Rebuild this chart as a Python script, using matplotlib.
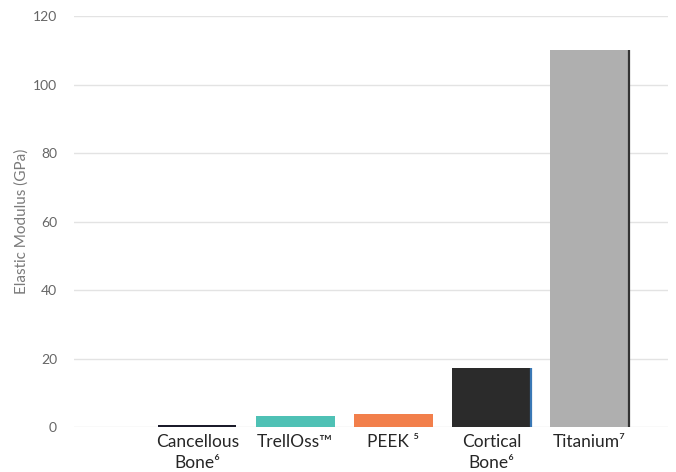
import numpy as np
import matplotlib.pyplot as plt

plt.rcParams['font.family'] = ['Lato', 'DejaVu Sans']

# Data
categories = ["Cancellous\nBone\u2076", "TrellOss\u2122", "PEEK \u2075", "Cortical\nBone\u2076", "Titanium\u2077"]
modulus = [0.6, 3.3, 3.8, 17.3, 110]
colors = ["#1b1b2a", "#4fc1b5", "#f27f4b", "#2b2b2b", "#afafaf"]
edge_colors = [None, None, None, "#3a78b5", "#333333"]

fig = plt.figure(figsize=(6.76, 4.72), dpi=100)
ax = fig.add_axes([0.109, 0.095, 0.879, 0.871])

x = np.arange(len(categories))
w = 0.8
ax.bar(x, modulus, width=w, color=colors, zorder=3)
# thin shaded right edges seen on the taller bars
for xi, v, ec in zip(x, modulus, edge_colors):
    if ec:
        ax.vlines(xi + w / 2, 0, v, color=ec, linewidth=1.6, zorder=4)

ax.set_xlim(-1.26, 4.80)
ax.set_ylim(0, 120)
ax.set_yticks(np.arange(0, 121, 20))
ax.set_xticks(x)
ax.set_xticklabels(categories, fontsize=12.5, color="#262626", linespacing=1.35)
ax.tick_params(axis="both", length=0)
ax.tick_params(axis="y", labelsize=10, labelcolor="#666666", pad=12)
ax.tick_params(axis="x", pad=5)
ax.grid(axis="y", color="#e3e3e3", linewidth=1, zorder=0)
ax.set_axisbelow(True)
for s in ax.spines.values():
    s.set_visible(False)
ax.set_ylabel("Elastic Modulus (GPa)", fontsize=11, color="#7a7a7a", labelpad=3)

fig.savefig("out.png", dpi=100)
